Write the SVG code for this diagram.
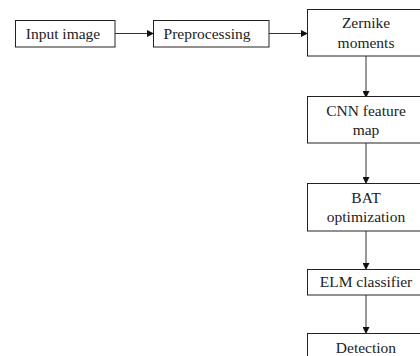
<svg xmlns="http://www.w3.org/2000/svg" width="420" height="356" viewBox="0 0 420 356">
<defs>
<marker id="ah" markerWidth="7" markerHeight="7" refX="6" refY="3.5" orient="auto" markerUnits="userSpaceOnUse">
<path d="M0,0 L7,3.5 L0,7 Z" fill="#111"/>
</marker>
<style>
.box{fill:#fff;stroke:#222;stroke-width:1}
.t{font-family:"Liberation Serif","Times New Roman",serif;font-size:15.5px;fill:#222;text-anchor:middle}
.c{stroke:#333;stroke-width:1;fill:none;marker-end:url(#ah)}
</style>
</defs>
<rect width="420" height="356" fill="#fff"/>
<g id="connectors">
<line class="c" x1="115" y1="33.5" x2="153" y2="33.5"/>
<line class="c" x1="269" y1="33.5" x2="307" y2="33.5"/>
<line class="c" x1="366" y1="56" x2="366" y2="97"/>
<line class="c" x1="366" y1="143" x2="366" y2="183"/>
<line class="c" x1="366" y1="231" x2="366" y2="269"/>
<line class="c" x1="366" y1="295" x2="366" y2="333"/>
</g>
<g id="input">
<rect class="box" x="15.5" y="20.5" width="99.5" height="26.5"/>
<text class="t" x="63" y="39">Input image</text>
</g>
<g id="preprocessing">
<rect class="box" x="153.5" y="20.5" width="115.5" height="26.5"/>
<text class="t" x="207" y="39">Preprocessing</text>
</g>
<g id="zernike">
<rect class="box" x="307.5" y="9.5" width="118" height="46.5"/>
<text class="t" x="366" y="28">Zernike</text>
<text class="t" x="366" y="48">moments</text>
</g>
<g id="cnn">
<rect class="box" x="307.5" y="96.5" width="118" height="46.5"/>
<text class="t" x="366" y="116">CNN feature</text>
<text class="t" x="366" y="135">map</text>
</g>
<g id="bat">
<rect class="box" x="307.5" y="183.5" width="118" height="47.5"/>
<text class="t" x="366" y="203">BAT</text>
<text class="t" x="366" y="222">optimization</text>
</g>
<g id="elm">
<rect class="box" x="307.5" y="269.5" width="118" height="25.5"/>
<text class="t" x="366" y="287">ELM classifier</text>
</g>
<g id="detection">
<rect class="box" x="307.5" y="333.5" width="118" height="40"/>
<text class="t" x="366" y="353">Detection</text>
</g>
</svg>
